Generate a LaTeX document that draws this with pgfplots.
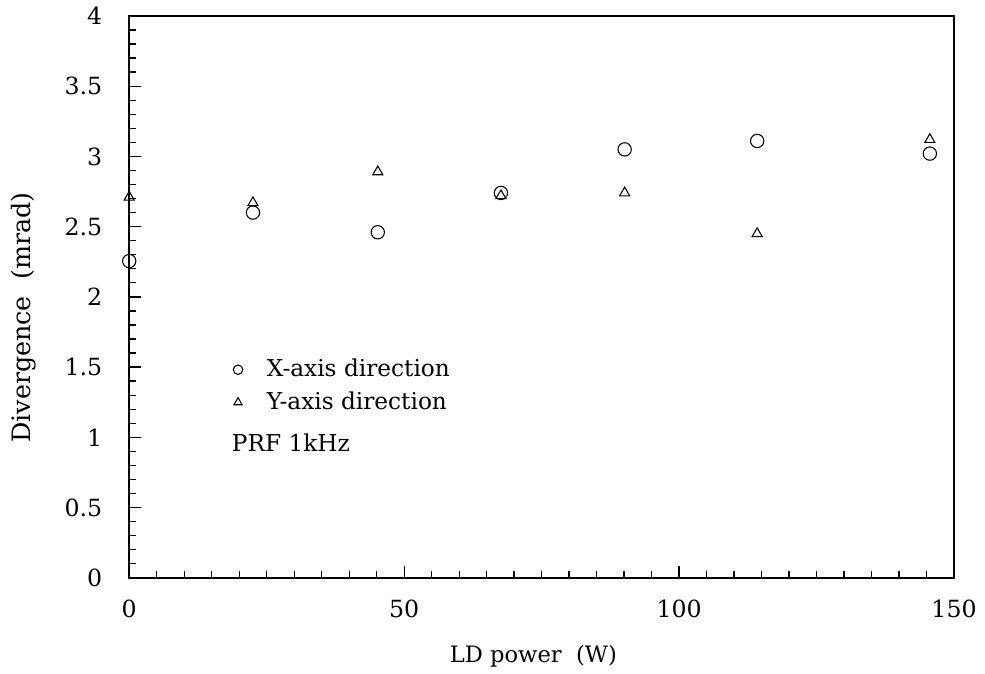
\documentclass[border=0pt]{standalone}
\usepackage{fontspec}
\setmainfont{DejaVu Serif}
\usepackage{pgfplots}
\pgfplotsset{compat=1.18}
\begin{document}
\begin{tikzpicture}
\begin{axis}[
  scale only axis,
  width=383.6pt, height=261.3pt,
  xmin=0, xmax=150, ymin=0, ymax=4,
  xtick={0,50,100,150},
  ytick={0,0.5,1,1.5,2,2.5,3,3.5,4},
  yticklabels={0,0.5,1,1.5,2,2.5,3,3.5,4},
  minor x tick num=9,
  minor y tick num=4,
  tick align=inside,
  xtick pos=bottom, ytick pos=left,
  major tick length=5.5pt, minor tick length=3pt,
  every tick/.style={black, line width=0.6pt},
  axis line style={line width=0.7pt},
  /pgf/number format/assume math mode=true,
  ticklabel style={font=\fontsize{11}{13}\selectfont},
  yticklabel style={xshift=-9pt},
  xticklabel style={yshift=-7pt},
  xlabel={LD power\ \ (W)},
  ylabel={Divergence\ \ (mrad)},
  xlabel style={font=\fontsize{10.5}{12}\selectfont, at={(rel axis cs:0.49,-0.139)}, anchor=center},
  ylabel style={font=\fontsize{11.8}{13}\selectfont, at={(rel axis cs:-0.128,0.463)}, anchor=center, rotate=0},
  clip=false,
  legend style={draw=none, fill=none, at={(axis cs:15.2,1.62)}, anchor=north west,
    font=\fontsize{10.8}{12}\selectfont, row sep=1.5pt,
    legend cell align=left},
  legend image code/.code={\path[draw=none] (0cm,0cm) -- (0.7cm,0cm); \draw[mark size=2.2pt] plot coordinates {(0.3cm,0cm)};},
]
\addplot[only marks, mark=o, mark size=3.1pt, black, line width=0.5pt] coordinates {
  (0,2.255) (22.5,2.60) (45.2,2.46) (67.6,2.74) (90.1,3.05) (114.2,3.11) (145.6,3.02)
};
\addlegendentry{X-axis direction}
\addplot[only marks, mark=triangle, mark size=2.7pt, black, line width=0.5pt] coordinates {
  (0,2.71) (22.5,2.67) (45.2,2.89) (67.6,2.72) (90.1,2.74) (114.2,2.45) (145.6,3.12)
};
\addlegendentry{Y-axis direction}
\node[anchor=west, font=\fontsize{10.8}{12}\selectfont] at (axis cs:17.3,0.96) {PRF 1kHz};
\end{axis}
\path ([shift={(-60.1pt,-42.8pt)}]current axis.south west) rectangle ([shift={(14.4pt,7.1pt)}]current axis.north east);
\end{tikzpicture}
\end{document}
